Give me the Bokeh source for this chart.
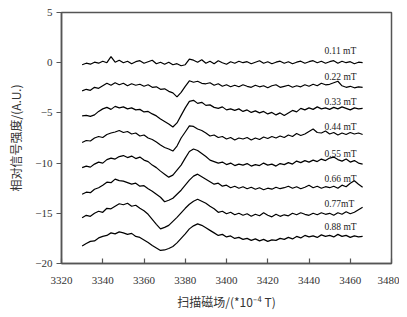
from bokeh.plotting import figure
from bokeh.models import Range1d, FixedTicker, ColumnDataSource
from bokeh.core.properties import value
from bokeh.embed import file_html
from bokeh.resources import INLINE

field = list(range(3330, 3467, 2))

s011 = [-0.2, -0.05, -0.15, 0.05, -0.05, 0.15, 0.0, 0.6, 0.05, 0.25,
        0.0, 0.15, -0.1, 0.1, 0.2, -0.05, 0.1, 0.25, -0.1, 0.05,
        -0.15, 0.05, -0.2, -0.1, -0.3, -0.2, 0.35, 0.25, 0.05, 0.3,
        -0.05, 0.15, -0.1, 0.2, 0.0, -0.15, 0.1, -0.05, 0.15, 0.0,
        0.1, -0.1, 0.05, 0.2, -0.05, 0.1, -0.1, 0.05, 0.15, -0.05,
        0.1, -0.1, 0.05, 0.15, -0.05, 0.1, 0.2, 0.0, 0.15, -0.05,
        0.1, 0.2, -0.05, 0.15, 0.0, 0.1, -0.1, 0.05, 0.0]
s022 = [-2.8, -2.65, -2.75, -2.45, -2.55, -2.3, -2.05, -2.25, -2.0, -2.2,
        -2.05, -2.3, -2.1, -2.25, -2.15, -2.35, -2.2, -2.45, -2.4, -2.65,
        -2.6, -2.85, -3.0, -3.4, -2.95, -2.35, -1.8, -1.95, -1.85, -2.05,
        -2.1, -2.0, -2.25, -2.1, -2.35, -2.2, -2.4, -2.25, -2.4, -2.2,
        -2.35, -2.45, -2.25, -2.4, -2.3, -2.5, -2.3, -2.2, -2.45, -2.35,
        -2.25, -2.45, -2.3, -2.4, -2.2, -2.35, -2.15, -2.3, -2.05, -2.2,
        -2.15, -2.0, -1.85, -2.3, -2.45, -2.35, -2.5, -2.4, -2.45]
s033 = [-5.3, -5.25, -5.35, -5.2, -4.85, -4.6, -4.45, -4.65, -4.35, -4.5,
        -4.4, -4.6, -4.5, -4.7, -4.65, -4.9, -4.85, -5.1, -5.3, -5.6,
        -5.85, -6.1, -6.4, -6.0, -5.25, -4.5, -3.85, -3.75, -4.05, -3.95,
        -4.25, -4.2, -4.45, -4.55, -4.4, -4.7, -4.6, -4.75, -4.6, -4.85,
        -4.7, -4.95, -4.8, -5.0, -4.85, -5.1, -4.95, -5.2, -5.0, -5.25,
        -5.0, -4.75, -4.9, -4.55, -4.7, -4.5, -4.65, -4.4, -4.6, -4.5,
        -4.65, -4.45, -4.6, -4.4, -4.55, -4.7, -4.5, -4.6, -4.55]
s044 = [-7.95, -7.75, -7.8, -7.5, -7.35, -7.45, -7.15, -7.0, -6.9, -6.75,
        -6.95, -6.85, -7.1, -7.0, -7.3, -7.2, -7.5, -7.65, -7.9, -8.2,
        -8.45, -8.6, -8.8, -8.3, -7.5, -6.9, -6.3, -6.35, -6.6, -6.75,
        -7.0, -7.3, -7.2, -7.45, -7.35, -7.6, -7.45, -7.7, -7.5, -7.6,
        -7.45, -7.7, -7.5, -7.65, -7.4, -7.55, -7.35, -7.5, -7.3, -7.45,
        -7.2, -7.35, -7.05, -7.25, -7.1, -6.85, -6.6, -6.95, -7.0, -6.8,
        -7.1, -6.95, -7.2, -7.0, -7.15, -6.95, -7.1, -7.0, -7.15]
s055 = [-10.45, -10.3, -10.4, -10.1, -9.9, -10.0, -9.65, -9.5, -9.6, -9.35,
        -9.25, -9.45, -9.3, -9.55, -9.4, -9.7, -9.85, -10.2, -10.45, -10.8,
        -11.1, -11.4, -11.2, -10.7, -10.2, -9.5, -8.85, -8.6, -8.75, -9.05,
        -9.35, -9.7, -9.85, -10.0, -9.9, -10.15, -10.0, -10.25, -10.1, -10.2,
        -10.05, -10.3, -10.15, -10.25, -10.0, -10.2, -10.1, -10.3, -10.05, -10.15,
        -9.95, -10.1, -9.8, -9.95, -9.75, -9.9, -9.7, -9.85, -9.6, -9.75,
        -9.5, -9.4, -9.65, -9.8, -9.6, -9.9, -9.75, -10.0, -10.1]
s066 = [-13.1, -12.9, -12.95, -12.6, -12.45, -12.2, -11.9, -11.95, -11.6, -11.75,
        -11.8, -11.95, -12.1, -12.0, -12.3, -12.25, -12.55, -12.8, -13.1, -13.4,
        -13.85, -13.7, -13.5, -13.1, -12.7, -12.2, -11.7, -11.3, -11.1, -11.35,
        -11.6, -11.85, -12.1, -12.0, -12.3, -12.2, -12.45, -12.3, -12.5, -12.35,
        -12.55, -12.4, -12.6, -12.45, -12.65, -12.5, -12.6, -12.4, -12.55, -12.45,
        -12.3, -12.5, -12.35, -12.55, -12.4, -12.2, -12.45, -12.3, -12.5, -12.35,
        -12.45, -12.3, -12.5, -12.2, -12.35, -12.0, -11.75, -12.1, -12.4]
s077 = [-15.45, -15.2, -15.3, -15.0, -14.8, -14.9, -14.5, -14.55, -14.3, -14.05,
        -14.15, -14.0, -14.3, -14.2, -14.5, -14.75, -15.1, -15.6, -16.1, -16.55,
        -16.4, -16.2, -15.8, -15.4, -14.95, -14.5, -14.1, -13.8, -13.6, -13.8,
        -14.0, -14.3, -14.55, -14.9, -14.8, -15.05, -14.9, -15.15, -15.0, -15.2,
        -15.05, -15.3, -15.1, -15.25, -14.95, -15.2, -15.35, -15.1, -15.3, -15.15,
        -15.25, -15.0, -15.15, -14.95, -15.1, -15.2, -15.0, -15.15, -14.95, -15.1,
        -15.0, -15.2, -14.95, -15.1, -14.85, -15.05, -14.9, -14.65, -14.4]
s088 = [-18.25, -18.0, -17.8, -17.75, -17.45, -17.3, -17.2, -16.95, -17.05, -16.85,
        -16.95, -17.1, -17.0, -17.3, -17.4, -17.65, -17.9, -18.2, -18.45, -18.7,
        -18.65, -18.5, -18.3, -17.95, -17.5, -17.05, -16.55, -16.25, -16.05, -16.2,
        -16.45, -16.7, -16.95, -17.2, -17.1, -17.35, -17.25, -17.5, -17.4, -17.6,
        -17.5, -17.7, -17.55, -17.75, -17.6, -17.8, -17.65, -17.7, -17.5, -17.6,
        -17.4, -17.55, -17.3, -17.45, -17.2, -17.35, -17.25, -17.4, -17.15, -17.3,
        -17.2, -17.35, -17.1, -17.3, -17.2, -17.4, -17.25, -17.35, -17.3]

series = [s011, s022, s033, s044, s055, s066, s077, s088]
labels = ["0.11 mT", "0.22 mT", "0.33 mT", "0.44 mT", "0.55 mT", "0.66 mT", "0.77mT", "0.88 mT"]
label_x = [3447.5] * 8
label_y = [1.2, -1.45, -3.95, -6.45, -9.1, -11.6, -14.05, -16.4]

x_ticks = [3320, 3340, 3360, 3380, 3400, 3420, 3440, 3460, 3480]
y_ticks = [5, 0, -5, -10, -15, -20]

p = figure(width=399, height=313, output_backend="svg", toolbar_location=None,
           x_range=Range1d(3320, 3480), y_range=Range1d(-20, 5),
           min_border_left=61, min_border_right=8, min_border_top=12, min_border_bottom=50)

for s in series:
    p.line(field, s, line_color="black", line_width=1.2)

src = ColumnDataSource(dict(x=label_x, y=label_y, t=labels))
p.text(x="x", y="y", text="t", source=src, text_font=value("Liberation Serif"),
       text_font_size="9.5px", text_color="#222222", text_baseline="middle", text_align="left")

p.grid.visible = False
p.outline_line_color = "#555555"
p.outline_line_width = 1.5
p.background_fill_color = "white"
p.border_fill_color = "white"

p.xaxis.ticker = FixedTicker(ticks=x_ticks)
p.yaxis.ticker = FixedTicker(ticks=y_ticks)
for ax in (p.xaxis[0], p.yaxis[0]):
    ax.axis_line_color = "#555555"
    ax.axis_line_width = 1.5
    ax.major_tick_line_color = "#555555"
    ax.major_tick_line_width = 1.2
    ax.minor_tick_line_color = None
    ax.major_label_text_font = "Liberation Serif"
    ax.major_label_text_font_size = "11px"
    ax.major_label_text_color = "#333333"
    ax.axis_label_text_font = "Noto Sans CJK SC"
    ax.axis_label_text_font_size = "12px"
    ax.axis_label_text_font_style = "normal"
    ax.axis_label_text_color = "#333333"

p.xaxis.major_tick_in = 5
p.xaxis.major_tick_out = 0
p.yaxis.major_tick_in = 0
p.yaxis.major_tick_out = 5
p.xaxis.major_label_standoff = 13
p.yaxis.major_label_standoff = 4
p.xaxis.axis_label = "扫描磁场/(*10⁻⁴ T)"
p.yaxis.axis_label = "相对信号强度/(A.U.)"
p.xaxis.axis_label_standoff = 6
p.yaxis.axis_label_standoff = 8

open("out.html", "w").write(file_html(p, INLINE))
